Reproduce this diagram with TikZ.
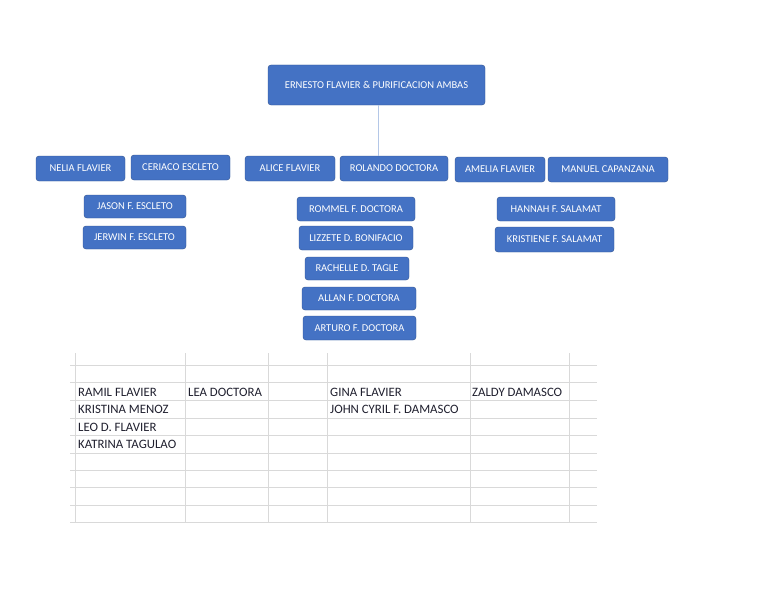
\documentclass[tikz,border=0pt]{standalone}
\usepackage{fontspec}
\setmainfont{Carlito}
\usepackage{tikz}
\usetikzlibrary{positioning,calc}
\definecolor{boxblue}{HTML}{4472C4}
\definecolor{boxedge}{HTML}{2F528F}
\definecolor{linkblue}{HTML}{B4C7E7}
\definecolor{gridgray}{HTML}{D9D9D9}
\definecolor{celltext}{HTML}{1F1F2E}

\begin{document}
\begin{tikzpicture}[
    x=1pt, y=-1pt,
    person/.style={rectangle, draw=boxedge, fill=boxblue, rounded corners=3pt, text=white,
        inner sep=0pt, align=center, font=\fontsize{10.5}{12}\selectfont},
    cell/.style={anchor=base west, inner sep=0pt, text=celltext, font=\fontsize{12.8}{14}\selectfont},
    link/.style={draw=linkblue, line width=1pt},
    gridline/.style={draw=gridgray, line width=0.8pt}
]
\useasboundingbox (0,0) rectangle (768,594);

% Parents
\node[person, minimum width=217, minimum height=40] (ernesto) at (376.5,85) {ERNESTO FLAVIER \& PURIFICACION AMBAS};

% Children and spouses
\node[person, minimum width=89, minimum height=25] (nelia) at (80.5,168.5) {NELIA FLAVIER};
\node[person, minimum width=99, minimum height=25] (ceriaco) at (180.5,167.5) {CERIACO ESCLETO};
\node[person, minimum width=90, minimum height=25] (alice) at (290,168.5) {ALICE FLAVIER};
\node[person, minimum width=108, minimum height=25] (rolando) at (394,168.5) {ROLANDO DOCTORA};
\node[person, minimum width=90, minimum height=25] (amelia) at (500,169.5) {AMELIA FLAVIER};
\node[person, minimum width=120, minimum height=25] (manuel) at (608,169.5) {MANUEL CAPANZANA};

% Grandchildren
\node[person, minimum width=102, minimum height=23] (jason) at (135,206.5) {JASON F. ESCLETO};
\node[person, minimum width=103, minimum height=23] (jerwin) at (134.5,237.5) {JERWIN F. ESCLETO};

\node[person, minimum width=118, minimum height=24] (rommel) at (356,209) {ROMMEL F. DOCTORA};
\node[person, minimum width=114, minimum height=24] (lizzete) at (356,238) {LIZZETE D. BONIFACIO};
\node[person, minimum width=104, minimum height=23] (rachelle) at (357,268.5) {RACHELLE D. TAGLE};
\node[person, minimum width=114, minimum height=23] (allan) at (359,298.5) {ALLAN F. DOCTORA};
\node[person, minimum width=113, minimum height=24] (arturo) at (359.5,328) {ARTURO F. DOCTORA};

\node[person, minimum width=118, minimum height=24] (hannah) at (556,209) {HANNAH F. SALAMAT};
\node[person, minimum width=119, minimum height=25] (kristiene) at (554.5,239.5) {KRISTIENE F. SALAMAT};

% Connector
\draw[link] ([xshift=1.5pt]ernesto.south) -- ([xshift=1.5pt]ernesto.south |- rolando.north);

% Sheet grid
\foreach \gy in {365,382,400,418,435,453,470,487,505,522}
    \draw[gridline] (70,\gy) -- (597,\gy);
\foreach \gx in {75,185,268,327,470,569}
    \draw[gridline] (\gx,353) -- (\gx,522);

% Sheet entries
\node[cell] (ramil) at (78,396) {RAMIL FLAVIER};
\node[cell] (lea) at (188,396) {LEA DOCTORA};
\node[cell] (gina) at (330,396) {GINA FLAVIER};
\node[cell] (zaldy) at (472,396) {ZALDY DAMASCO};
\node[cell] (kristina) at (78,413.5) {KRISTINA MENOZ};
\node[cell] (john) at (330,413.5) {JOHN CYRIL F. DAMASCO};
\node[cell] (leo) at (78,431) {LEO D. FLAVIER};
\node[cell] (katrina) at (78,448.5) {KATRINA TAGULAO};

\end{tikzpicture}
\end{document}
